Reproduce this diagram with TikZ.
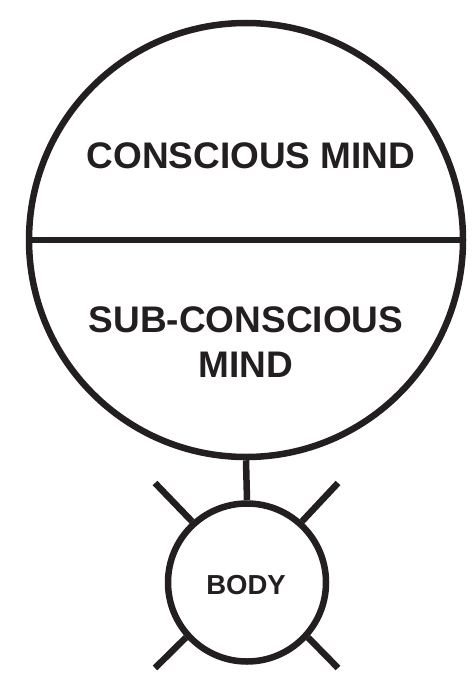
\documentclass[tikz,border=0pt]{standalone}
\usepackage{fontspec}
\setmainfont{Liberation Sans}
\usepackage{tikz}
\usepackage{xcolor}
\usetikzlibrary{calc,positioning}
\definecolor{inkdark}{RGB}{35,31,32}

\begin{document}
\begin{tikzpicture}[x=1pt,y=-1pt]
  \useasboundingbox (0,0) rectangle (476,682);
  \tikzset{
    ring/.style={circle,draw=inkdark,line width=6.5pt,inner sep=0pt},
    bar/.style={draw=inkdark,line width=6.5pt},
    lbl/.style={text=inkdark,font=\bfseries\fontsize{37}{45}\selectfont,align=center,inner sep=0pt}
  }
  % 大圆：意识与潜意识
  \node[ring,minimum size=434pt] (mind) at (246,240) {};
  \draw[bar] (mind.west)--(mind.east);
  \node[lbl,anchor=base] (conscious) at (251,168) {CONSCIOUS MIND};
  \node[lbl,anchor=base] (subconscious) at (246,377) {SUB-CONSCIOUS\\MIND};
  % 小圆：身体
  \node[ring,minimum size=158pt] (body) at (247,582.5) {};
  \node[text=inkdark,font=\bfseries\fontsize{27.5}{30}\selectfont,anchor=base,inner sep=0pt] (bodytext) at (246,594) {BODY};
  \draw[bar] (mind.south)--(body.north);
  % 四条射线
  \coordinate (ul) at (155,483);
  \coordinate (ur) at (338,483);
  \coordinate (ll) at (155,668);
  \coordinate (lr) at (338,668);
  \draw[bar] (body.132)--(ul);
  \draw[bar] (body.48)--(ur);
  \draw[bar] (body.222)--(ll);
  \draw[bar] (body.-42)--(lr);
\end{tikzpicture}
\end{document}
